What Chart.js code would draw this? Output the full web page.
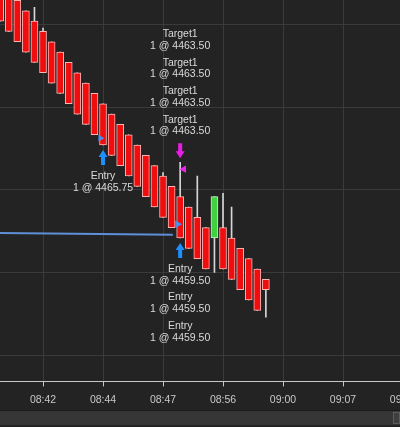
<!DOCTYPE html>
<html>
<head>
<meta charset="utf-8">
<script src="https://cdn.jsdelivr.net/npm/chart.js@4.4.0/dist/chart.umd.min.js"></script>
<style>
  html, body { margin: 0; padding: 0; width: 400px; height: 427px; overflow: hidden; background: #232323; }
  #wrap { position: absolute; left: 0; top: 0; width: 460px; height: 413px; }
  #scroll { position: absolute; left: 0; top: 410px; width: 400px; height: 14px; background: #363636; border-top: 1px solid #1b1b1b; }
  #thumb { position: absolute; right: 0; top: 1px; width: 5px; height: 10px; border: 1px solid #5c5c5c; background: #3e3e3e; }
</style>
</head>
<body>
<div id="wrap"><canvas id="chart" width="460" height="413"></canvas></div>
<div id="scroll"><div id="thumb"></div></div>
<script>
// bar slots (x positions) and OHLC
const barIndex = [2, 3, 4, 5, 6, 7, 8, 9, 10, 11, 12, 13, 14, 15, 16, 17,
                  18, 19, 20, 21, 22, 23, 24, 25, 26, 27, 28, 29, 30, 31, 32, 33];
const opens = [4477.25, 4476.50, 4475.75, 4475.00, 4474.25, 4473.50, 4472.75, 4472.00,
               4471.25, 4470.50, 4469.75, 4469.00, 4468.25, 4467.50, 4466.75, 4466.00,
               4465.25, 4464.50, 4463.75, 4463.00, 4462.25, 4461.50, 4460.75, 4460.00,
               4459.25, 4458.50, 4459.25, 4458.50, 4457.75, 4457.00, 4456.25, 4455.50];
const closes = [4474.25, 4473.50, 4472.75, 4472.00, 4471.25, 4470.50, 4469.75, 4469.00,
                4468.25, 4467.50, 4466.75, 4466.00, 4465.25, 4464.50, 4463.75, 4463.00,
                4462.25, 4461.50, 4460.75, 4460.00, 4459.25, 4458.50, 4457.75, 4457.00,
                4456.25, 4461.50, 4456.25, 4455.50, 4454.75, 4454.00, 4453.25, 4454.75];
const highs = [4477.25, 4476.50, 4475.75, 4475.00, 4475.25, 4473.75, 4472.75, 4472.00,
               4471.25, 4470.50, 4469.75, 4469.00, 4468.25, 4467.50, 4466.75, 4466.00,
               4465.25, 4464.50, 4463.75, 4463.25, 4462.25, 4464.00, 4460.75, 4463.00,
               4459.25, 4461.50, 4461.75, 4460.75, 4457.75, 4457.00, 4456.25, 4455.50];
const lows = [4474.25, 4473.50, 4472.75, 4472.00, 4471.25, 4470.50, 4469.75, 4469.00,
              4468.25, 4467.50, 4466.75, 4466.00, 4465.25, 4464.50, 4463.75, 4463.00,
              4462.25, 4461.50, 4460.75, 4460.00, 4459.25, 4458.50, 4457.75, 4457.00,
              4456.25, 4456.00, 4456.25, 4455.50, 4454.75, 4454.00, 4453.25, 4452.75];

// time axis labels and the price grid
const timeTickBars = [7, 14, 21, 28, 35, 42, 49];
const timeLabels = ["08:42", "08:44", "08:47", "08:56", "09:00", "09:07", "09:12"];
const priceGrid = [4450, 4456, 4462, 4468, 4474];

// executions
const execBars = [14, 23, 23, 23, 23, 23, 23, 23];
const execPrices = [4465.75, 4459.50, 4459.50, 4459.50, 4463.50, 4463.50, 4463.50, 4463.50];
const execQty = [1, 1, 1, 1, 1, 1, 1, 1];
const execNames = ["Entry", "Entry", "Entry", "Entry", "Target1", "Target1", "Target1", "Target1"];
const execSides = ["buy", "buy", "buy", "buy", "sell", "sell", "sell", "sell"];

// drawn line
const lineBars = [1.98, 22.15];
const linePrices = [4458.87, 4458.74];

const FONT = "'Liberation Sans', Arial, sans-serif";

function drawArrow(ctx, cx, tipY, dir, color) {
    // dir 1 = pointing up (body below tip), -1 = pointing down
    const len = 15, head = 7, hw = 4.5, sw = 2;
    ctx.beginPath();
    ctx.moveTo(cx, tipY);
    ctx.lineTo(cx + hw, tipY + dir * head);
    ctx.lineTo(cx + sw, tipY + dir * head);
    ctx.lineTo(cx + sw, tipY + dir * len);
    ctx.lineTo(cx - sw, tipY + dir * len);
    ctx.lineTo(cx - sw, tipY + dir * head);
    ctx.lineTo(cx - hw, tipY + dir * head);
    ctx.closePath();
    ctx.fillStyle = color;
    ctx.fill();
}

// arrows and execution texts, placed from the bar's high/low
const executionMarks = {
    id: "executionMarks",
    afterDatasetsDraw(chart) {
        const { ctx, scales: { x, y } } = chart;
        const groups = {};
        execBars.forEach((bar, i) => {
            const key = bar + execSides[i];
            if (!groups[key]) groups[key] = { bar: bar, side: execSides[i], items: [] };
            groups[key].items.push(i);
        });
        ctx.save();
        Object.values(groups).forEach((g) => {
            const bi = barIndex.indexOf(g.bar);
            const px = x.getPixelForValue(g.bar);
            const buy = g.side === "buy";
            const tip = buy ? y.getPixelForValue(lows[bi]) + 5 : y.getPixelForValue(highs[bi]) - 4;
            drawArrow(ctx, px, tip, buy ? 1 : -1, buy ? "#1e8fff" : "#e61ee6");
            ctx.font = "10.5px " + FONT;
            ctx.fillStyle = "#dadada";
            ctx.textAlign = "center";
            ctx.textBaseline = "middle";
            g.items.forEach((i, n) => {
                const qtyText = execQty[i] + " @ " + execPrices[i].toFixed(2);
                if (buy) {
                    const top = tip + 15 + 11 + n * 28.5;
                    ctx.fillText(execNames[i], px, top);
                    ctx.fillText(qtyText, px, top + 12);
                } else {
                    const bottom = tip - 15 - 12 - n * 28.5;
                    ctx.fillText(execNames[i], px, bottom - 11.5);
                    ctx.fillText(qtyText, px, bottom);
                }
            });
        });
        ctx.restore();
    },
};

const canvas = document.getElementById("chart");

const config = {
    type: "bar",
    data: {
        datasets: [
            {
                type: "scatter",
                data: execBars.map((b, i) => ({ x: b + (execSides[i] === "buy" ? -0.3 : 0.45), y: execPrices[i] })),
                pointStyle: "triangle",
                rotation: execSides.map((s) => (s === "buy" ? 90 : -90)),
                pointRadius: 4,
                borderWidth: 0,
                backgroundColor: execSides.map((s) => (s === "buy" ? "#4a8fe8" : "#ee22ee")),
                order: 0,
            },
            {
                type: "bar",
                data: barIndex.map((k, i) => ({ x: k, y: [opens[i], closes[i]] })),
                backgroundColor: (c) => (closes[c.dataIndex] > opens[c.dataIndex] ? "#3fd23f" : "#f00d0d"),
                borderColor: (c) => (closes[c.dataIndex] > opens[c.dataIndex] ? "#c4f2c4" : "#ffb4b4"),
                borderWidth: 1,
                borderSkipped: false,
                barThickness: 7,
                grouped: false,
                order: 1,
            },
            {
                type: "bar",
                data: barIndex.map((k, i) => ({ x: k, y: [lows[i], highs[i]] })),
                backgroundColor: "#d6d6d6",
                barThickness: 1,
                grouped: false,
                order: 2,
            },
            {
                type: "line",
                data: lineBars.map((b, i) => ({ x: b, y: linePrices[i] })),
                borderColor: "#5f8fd6",
                borderWidth: 2,
                pointRadius: 0,
                order: 3,
            },
        ],
    },
    options: {
        responsive: false,
        animation: false,
        devicePixelRatio: 1,
        layout: { autoPadding: false, padding: 0 },
        plugins: {
            legend: { display: false },
            tooltip: { enabled: false },
        },
        scales: {
            x: {
                type: "linear",
                min: 1.98,
                max: 55.65,
                offset: false,
                afterBuildTicks: (s) => {
                    s.ticks = timeTickBars.map((v) => ({ value: v }));
                },
                ticks: {
                    callback: (v) => timeLabels[timeTickBars.indexOf(v)] || "",
                    color: "#c8c8c8",
                    font: { family: FONT, size: 10.5 },
                    maxRotation: 0,
                    autoSkip: false,
                    padding: 7,
                },
                grid: { color: "#3a3a3a", tickColor: "#c8c8c8", tickLength: 5, offset: false },
                border: { display: true, color: "#c8c8c8", width: 1 },
            },
            y: {
                type: "linear",
                position: "right",
                min: 4448.09,
                max: 4475.78,
                afterBuildTicks: (s) => {
                    s.ticks = priceGrid.map((v) => ({ value: v }));
                },
                ticks: { display: false },
                grid: { color: "#3a3a3a", drawTicks: false },
                border: { display: false },
            },
        },
    },
    plugins: [executionMarks],
};

new Chart(canvas, config);
</script>
</body>
</html>
